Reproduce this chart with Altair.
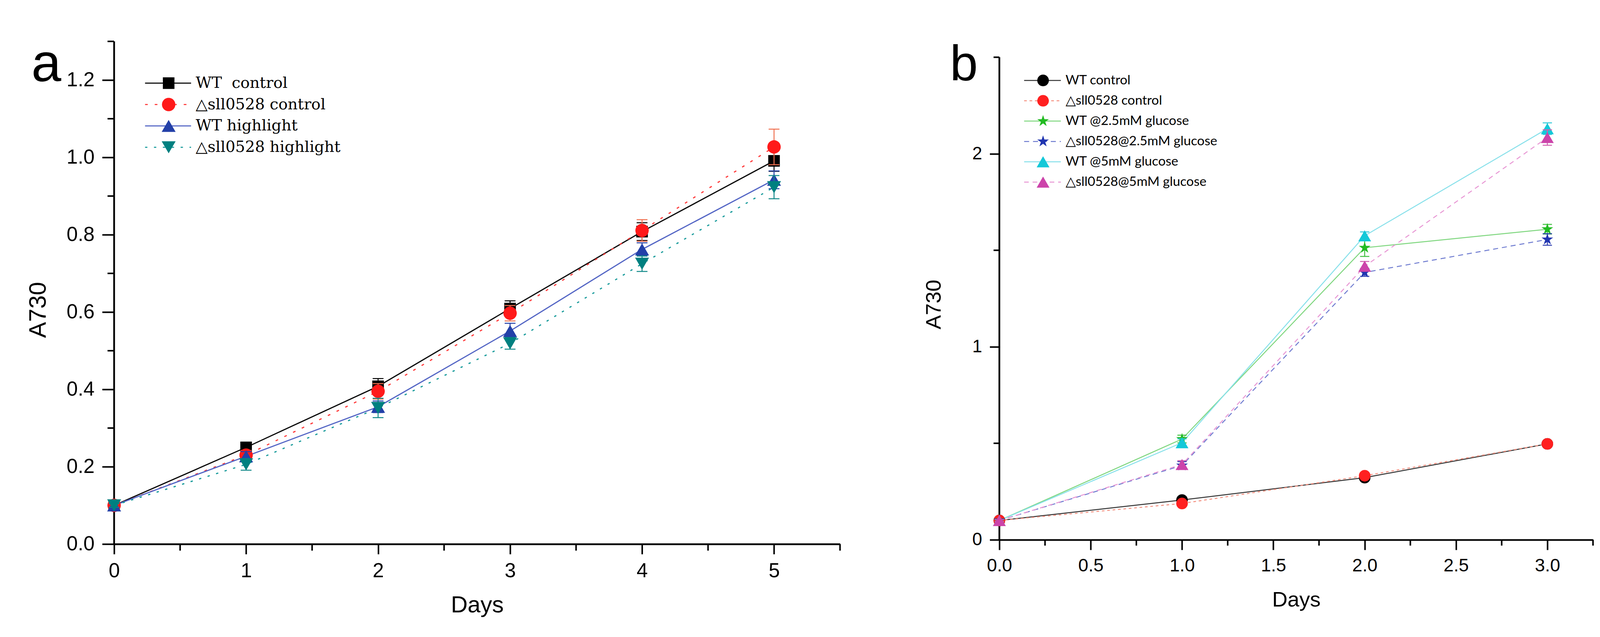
import altair as alt
import pandas as pd

# ---------------- Panel a data ----------------
days_a = [0, 1, 2, 3, 4, 5]
names_a = ["WT\u00a0 control", "△sll0528 control", "WT highlight", "△sll0528 highlight"]
wt_control_a = [0.10, 0.250, 0.408, 0.609, 0.808, 0.991]
ko_control_a = [0.10, 0.230, 0.395, 0.597, 0.811, 1.027]
wt_high_a = [0.10, 0.227, 0.355, 0.551, 0.762, 0.942]
ko_high_a = [0.10, 0.206, 0.352, 0.519, 0.725, 0.923]
err_wt_control_a = [0.005, 0.010, 0.020, 0.020, 0.023, 0.027]
err_ko_control_a = [0.005, 0.012, 0.020, 0.020, 0.028, 0.046]
err_wt_high_a = [0.005, 0.012, 0.015, 0.020, 0.017, 0.023]
err_ko_high_a = [0.005, 0.015, 0.025, 0.015, 0.020, 0.030]

# ---------------- Panel b data ----------------
days_b = [0, 1, 2, 3]
names_b = ["WT control", "△sll0528 control", "WT @2.5mM glucose",
           "\u00a0△sll0528@2.5mM glucose", "WT @5mM glucose", "△sll0528@5mM glucose"]
wt_control_b = [0.10, 0.206, 0.322, 0.497]
ko_control_b = [0.10, 0.188, 0.332, 0.497]
wt_25_b = [0.10, 0.522, 1.513, 1.609]
ko_25_b = [0.10, 0.385, 1.385, 1.556]
wt_5_b = [0.10, 0.503, 1.575, 2.130]
ko_5_b = [0.10, 0.390, 1.417, 2.084]
err_wt_control_b = [0.005, 0.010, 0.010, 0.010]
err_ko_control_b = [0.005, 0.010, 0.010, 0.010]
err_wt_25_b = [0.005, 0.020, 0.045, 0.025]
err_ko_25_b = [0.005, 0.020, 0.020, 0.030]
err_wt_5_b = [0.005, 0.020, 0.020, 0.030]
err_ko_5_b = [0.005, 0.020, 0.025, 0.040]

STAR = ("M0,-1L0.225,-0.309L0.951,-0.309L0.363,0.118L0.588,0.809L0,0.382"
        "L-0.588,0.809L-0.363,0.118L-0.951,-0.309L-0.225,-0.309Z")

styles_a = [
    dict(marker="#000000", line="#000000", err="#000000", dash=None, shape="square", size=900),
    dict(marker="#FF1A1A", line="#FF3B3B", err="#F07050", dash=[7, 18], shape="circle", size=1200),
    dict(marker="#2340A8", line="#5264C4", err="#2340A8", dash=None, shape="triangle-up", size=1300),
    dict(marker="#008080", line="#159A9A", err="#108888", dash=[6, 17], shape="triangle-down", size=1300),
]
styles_b = [
    dict(marker="#000000", line="#333333", err="#000000", dash=None, shape="circle", size=900),
    dict(marker="#FF2020", line="#F59080", err="#E04040", dash=[7, 7], shape="circle", size=900),
    dict(marker="#22BB22", line="#7ED67E", err="#40C040", dash=None, shape=STAR, size=1000),
    dict(marker="#2035B0", line="#6F7CD0", err="#3040B0", dash=[13, 10], shape=STAR, size=1000),
    dict(marker="#14C8D8", line="#86E0EA", err="#30C8D8", dash=None, shape="triangle-up", size=1100),
    dict(marker="#CC44AA", line="#E896D4", err="#D060B0", dash=[12, 10], shape="triangle-up", size=1100),
]


def long_df(days, names, values, errors):
    rows = []
    for name, vals, errs in zip(names, values, errors):
        for d, v, e in zip(days, vals, errs):
            rows.append(dict(series=name, day=d, value=v, lo=v - e, hi=v + e))
    return pd.DataFrame(rows)


def build_panel(df, names, styles, cfg):
    w, h = cfg["w"], cfg["h"]
    xs = alt.Scale(domain=cfg["xdomain"], nice=False, zero=False)
    ys = alt.Scale(domain=cfg["ydomain"], nice=False, zero=False)
    common = dict(domainColor="black", domainWidth=4.5, tickColor="black", tickWidth=4,
                  labelColor="black", titleColor="black", grid=False,
                  labelFont="Liberation Sans", titleFont="Liberation Sans",
                  titleFontWeight="normal", labelFlush=False, labelOverlap=False)
    x_axis = alt.Axis(values=cfg["xticks"], format=cfg["xfmt"], title="Days",
                      labelFontSize=cfg["xlab_fs"], labelPadding=cfg["xlab_pad"],
                      tickSize=cfg["xtick"], titleFontSize=cfg["xtitle_fs"],
                      titleX=w / 2, titleY=cfg["xtitle_y"], titleBaseline="alphabetic",
                      titleAlign="center", **common)
    y_axis = alt.Axis(values=cfg["yticks"], format=cfg["yfmt"], title="A730", domain=False,
                      labelFontSize=cfg["ylab_fs"], labelPadding=cfg["ylab_pad"],
                      tickSize=cfg["ytick"], titleFontSize=cfg["ytitle_fs"],
                      titleX=cfg["ytitle_x"], titleY=cfg["ytitle_y"], titleAngle=-90,
                      titleBaseline="alphabetic", titleAlign="center", **common)

    def X(field):
        return alt.X(field, scale=xs, axis=x_axis)

    def Y(field):
        return alt.Y(field, scale=ys, axis=y_axis)

    layers = []
    # invisible extent marker (controls layout bounds)
    layers.append(
        alt.Chart(pd.DataFrame({"k": [0]})).mark_rule(strokeOpacity=0, strokeWidth=1).encode(
            x=alt.value(cfg["left_ext"]), x2=alt.value(w + 10),
            y=alt.value(cfg["top_ext"]), y2=alt.value(cfg["top_ext"]))
    )
    # y axis line, spanning the axis range
    layers.append(
        alt.Chart(pd.DataFrame({"value": [cfg["yline"][0]], "value2": [cfg["yline"][1]]}))
        .mark_rule(color="black", strokeWidth=4.5).encode(
            y=Y("value:Q"), y2="value2:Q", x=alt.value(0))
    )
    # lines
    for name, st in zip(names, styles):
        kw = dict(color=st["line"], strokeWidth=cfg["lw"])
        if st["dash"]:
            kw["strokeDash"] = st["dash"]
        layers.append(
            alt.Chart(df).transform_filter(alt.datum.series == name).mark_line(**kw).encode(
                x=X("day:Q"), y=Y("value:Q"))
        )
    # minor ticks
    layers.append(
        alt.Chart(pd.DataFrame({"value": cfg["yminor"]})).mark_rule(color="black", strokeWidth=4).encode(
            y=Y("value:Q"), x=alt.value(0), x2=alt.value(-cfg["minor"]))
    )
    layers.append(
        alt.Chart(pd.DataFrame({"day": cfg["xminor"]})).mark_rule(color="black", strokeWidth=4).encode(
            x=X("day:Q"), y=alt.value(h), y2=alt.value(h + cfg["minor"]))
    )
    # error bars and markers
    for name, st in zip(names, styles):
        base = alt.Chart(df).transform_filter(alt.datum.series == name)
        layers.append(base.mark_rule(color=st["err"], strokeWidth=2.5).encode(
            x=X("day:Q"), y=Y("lo:Q"), y2="hi:Q"))
        for f in ["lo", "hi"]:
            layers.append(base.mark_tick(orient="horizontal", size=cfg["cap"], thickness=2.5,
                                         color=st["err"], opacity=1).encode(
                x=X("day:Q"), y=Y(f + ":Q")))
        layers.append(base.mark_point(filled=True, shape=st["shape"], size=st["size"],
                                      color=st["marker"], opacity=1).encode(
            x=X("day:Q"), y=Y("value:Q")))
    # legend (drawn manually inside the plot)
    lg = cfg["legend"]
    for i, (name, st) in enumerate(zip(names, styles)):
        yy = lg["y0"] + i * lg["dy"]
        ldf = pd.DataFrame({"label": [name]})
        kw = dict(color=st["line"], strokeWidth=cfg["lw"])
        if st["dash"]:
            kw["strokeDash"] = st["dash"]
        layers.append(alt.Chart(ldf).mark_rule(**kw).encode(
            x=alt.value(lg["x1"]), x2=alt.value(lg["x2"]), y=alt.value(yy)))
        layers.append(alt.Chart(ldf).mark_point(filled=True, shape=st["shape"], size=st["size"],
                                                color=st["marker"], opacity=1).encode(
            x=alt.value(lg["xm"]), y=alt.value(yy)))
        layers.append(alt.Chart(ldf).mark_text(font=lg["font"], fontSize=lg["fs"], align="left",
                                               baseline="middle", color="black").encode(
            x=alt.value(lg["xt"]), y=alt.value(yy + lg["ty"]), text="label:N"))
    # panel letter
    layers.append(alt.Chart(pd.DataFrame({"t": [cfg["letter"]]})).mark_text(
        font="Liberation Sans", fontSize=cfg["letter_fs"], align="left", baseline="alphabetic",
        color="black").encode(x=alt.value(cfg["letter_x"]), y=alt.value(cfg["letter_y"]), text="t:N"))

    return alt.layer(*layers).properties(width=w, height=h)


df_a = long_df(days_a, names_a,
               [wt_control_a, ko_control_a, wt_high_a, ko_high_a],
               [err_wt_control_a, err_ko_control_a, err_wt_high_a, err_ko_high_a])
df_b = long_df(days_b, names_b,
               [wt_control_b, ko_control_b, wt_25_b, ko_25_b, wt_5_b, ko_5_b],
               [err_wt_control_b, err_ko_control_b, err_wt_25_b, err_ko_25_b, err_wt_5_b, err_ko_5_b])

cfg_a = dict(
    w=1877, h=1300, xdomain=[0, 5.5], ydomain=[0, 1.3], yline=[0, 1.3],
    xticks=[0, 1, 2, 3, 4, 5], xminor=[0.5, 1.5, 2.5, 3.5, 4.5, 5.5], xfmt="d",
    yticks=[0, 0.2, 0.4, 0.6, 0.8, 1.0, 1.2], yminor=[0.1, 0.3, 0.5, 0.7, 0.9, 1.1, 1.3], yfmt=".1f",
    xlab_fs=52, xlab_pad=18, xtick=26, xtitle_fs=60, xtitle_y=176,
    ylab_fs=52, ylab_pad=20, ytick=31, ytitle_fs=62, ytitle_x=-177, ytitle_y=694,
    minor=17, lw=3, cap=28, left_ext=-287, top_ext=-91,
    legend=dict(y0=108, dy=55.3, x1=80, x2=199, xm=141, xt=211, ty=0, font="DejaVu Serif", fs=40),
    letter="a", letter_fs=139, letter_x=-214, letter_y=103,
)
# panel b: plot area starts 41 px below panel a's top, so the drawing
# height covers that margin and the y axis line stops at 2.5
cfg_b = dict(
    w=1535, h=1289, xdomain=[0, 3.25], ydomain=[0, 2.5 * 1289 / 1248], yline=[0, 2.5],
    xticks=[0, 0.5, 1.0, 1.5, 2.0, 2.5, 3.0], xminor=[0.25, 0.75, 1.25, 1.75, 2.25, 2.75, 3.25], xfmt=".1f",
    yticks=[0, 1, 2], yminor=[0.5, 1.5, 2.5], yfmt="d",
    xlab_fs=47, xlab_pad=18, xtick=26, xtitle_fs=55, xtitle_y=172,
    ylab_fs=46, ylab_pad=20, ytick=25, ytitle_fs=55, ytitle_x=-152, ytitle_y=680,
    minor=15, lw=2.5, cap=24, left_ext=-250, top_ext=-91,
    legend=dict(y0=101, dy=52.6, x1=64, x2=159, xm=113, xt=171, ty=0, font="Lato", fs=34),
    letter="b", letter_fs=130, letter_x=-128, letter_y=101,
)

panel_a = build_panel(df_a, names_a, styles_a, cfg_a)
panel_b = build_panel(df_b, names_b, styles_b, cfg_b)

chart = alt.hconcat(panel_a, panel_b, spacing=152, bounds="full").properties(
    padding=0, background="white"
).configure_view(strokeWidth=0)

chart.save("out.html", embed_options={"renderer": "svg", "actions": False})
